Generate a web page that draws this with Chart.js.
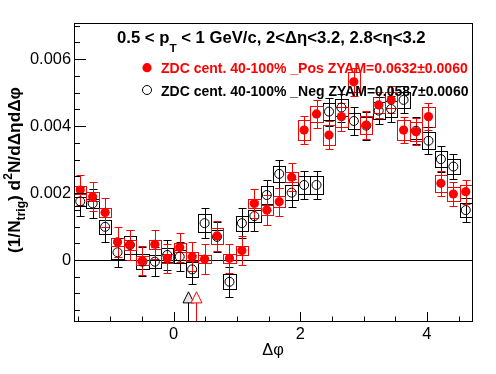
<!DOCTYPE html>
<html><head><meta charset="utf-8">
<script src="https://cdn.jsdelivr.net/npm/chart.js@4.4.1/dist/chart.umd.min.js"></script>
<style>html,body{margin:0;padding:0;background:#fff}canvas{display:block}</style>
</head><body>
<canvas id="c" width="496" height="374"></canvas>
<script>
// ---- data ----
const dphi = [-1.4726,-1.2763,-1.0799,-0.8836,-0.6872,-0.4909,-0.2945,-0.0982,
  0.0982,0.2945,0.4909,0.6872,0.8836,1.0799,1.2763,1.4726,
  1.6690,1.8653,2.0617,2.2580,2.4544,2.6507,2.8471,3.0434,
  3.2398,3.4361,3.6325,3.8288,4.0252,4.2215,4.4179,4.6142];
const binWidth = 0.19635;
const posVal = [0.00209,0.00189,0.00142,0.00054,0.00045,-0.00002,0.00047,0.00005,
  0.00037,0.00010,0.00003,0.00072,0.00005,0.00028,0.00169,0.00149,
  0.00174,0.00247,0.00388,0.00436,0.00373,0.00428,0.00532,0.00403,
  0.00463,0.00478,0.00388,0.00383,0.00428,0.00229,0.00197,0.00204];
const posStat = [0.00044,0.00044,0.00044,0.00044,0.00044,0.00044,0.00044,0.00044,
  0.00044,0.00044,0.00044,0.00044,0.00044,0.00044,0.00044,0.00044,
  0.00042,0.00042,0.00042,0.00042,0.00042,0.00042,0.00042,0.00042,
  0.00040,0.00040,0.00040,0.00040,0.00040,0.00038,0.00036,0.00036];
const posSys = [0.00012,0.00013,0.00013,0.00013,0.00014,0.00013,0.00014,0.00013,
  0.00014,0.00013,0.00013,0.00023,0.00013,0.00013,0.00013,0.00014,
  0.00017,0.00015,0.00030,0.00025,0.00030,0.00030,0.00030,0.00028,
  0.00025,0.00025,0.00030,0.00028,0.00030,0.00025,0.00022,0.00020];
const negVal = [0.00175,0.00169,0.00099,0.00023,0.00045,-0.00005,-0.00005,0.00015,
  0.00010,-0.00028,0.00110,0.00069,-0.00065,0.00110,0.00131,0.00194,
  0.00257,0.00201,0.00224,0.00224,0.00443,0.00455,0.00415,0.00401,
  0.00446,0.00451,0.00478,0.00386,0.00356,0.00301,0.00279,0.00149];
const negStat = [0.00044,0.00044,0.00044,0.00044,0.00044,0.00044,0.00044,0.00044,
  0.00044,0.00044,0.00044,0.00044,0.00044,0.00044,0.00044,0.00044,
  0.00042,0.00042,0.00042,0.00042,0.00042,0.00042,0.00042,0.00042,
  0.00040,0.00040,0.00040,0.00040,0.00040,0.00038,0.00037,0.00037];
const negSys = [0.00013,0.00013,0.00020,0.00020,0.00028,0.00022,0.00020,0.00020,
  0.00020,0.00022,0.00027,0.00020,0.00023,0.00022,0.00018,0.00026,
  0.00025,0.00022,0.00026,0.00026,0.00025,0.00025,0.00025,0.00025,
  0.00025,0.00025,0.00025,0.00025,0.00025,0.00023,0.00023,0.00020];
const zyamPhiPos = 0.354;
const zyamPhiNeg = 0.227;
const yTickValues = [0, 0.002, 0.004, 0.006];
const yTickLabels = ['0', '0.002', '0.004', '0.006'];
const xTickValues = [0, 2, 4];
const xTickLabels = ['0', '2', '4'];
const legendPos = 'ZDC cent. 40-100% _Pos ZYAM=0.0632\u00b10.0060';
const legendNeg = 'ZDC cent. 40-100% _Neg ZYAM=0.0587\u00b10.0060';

// ---- drawing helpers ----
const FONT = '"Liberation Sans", Arial, Helvetica, sans-serif';
function fnt(bold, size){ return (bold ? 'bold ' : '') + size.toFixed(2) + 'px ' + FONT; }
function richWidth(ctx, parts, size, bold){
  let w = 0;
  for (const p of parts){ ctx.font = fnt(bold, size*(p.s||1)); w += ctx.measureText(p.t).width; }
  return w;
}
function drawRich(ctx, parts, x, y, size, bold){
  for (const p of parts){
    ctx.font = fnt(bold, size*(p.s||1));
    ctx.fillText(p.t, x, y + (p.dy||0)*size);
    x += ctx.measureText(p.t).width;
  }
}
function fitSize(ctx, parts, bold, target, base){
  const w = richWidth(ctx, parts, base, bold);
  return base*target/w;
}
const snap = v => Math.round(v) + 0.5;

function drawBoxes(chart, vals, sys, color){
  const {ctx, scales:{x, y}} = chart;
  ctx.strokeStyle = color; ctx.lineWidth = 1;
  for (let i = 0; i < vals.length; i++){
    const x0 = snap(x.getPixelForValue(dphi[i]-binWidth/2));
    const x1 = snap(x.getPixelForValue(dphi[i]+binWidth/2));
    const y0 = snap(y.getPixelForValue(vals[i]+sys[i]));
    const y1 = snap(y.getPixelForValue(vals[i]-sys[i]));
    ctx.strokeRect(x0, y0, x1-x0, y1-y0);
  }
}
function drawBars(chart, vals, err, color){
  const {ctx, scales:{x, y}} = chart;
  ctx.strokeStyle = color; ctx.lineWidth = 1;
  ctx.beginPath();
  for (let i = 0; i < vals.length; i++){
    const xp = snap(x.getPixelForValue(dphi[i]));
    const yt = snap(y.getPixelForValue(vals[i]+err[i]));
    const yb = snap(y.getPixelForValue(vals[i]-err[i]));
    ctx.moveTo(xp, yt); ctx.lineTo(xp, yb);
    ctx.moveTo(xp-4, yt); ctx.lineTo(xp+4, yt);
    ctx.moveTo(xp-4, yb); ctx.lineTo(xp+4, yb);
  }
  ctx.stroke();
}
function drawArrow(chart, phi, color, fill){
  const {ctx, chartArea:a, scales:{x, y}} = chart;
  const xp = snap(x.getPixelForValue(phi));
  const yTip = y.getPixelForValue(-0.00095);
  const yBase = y.getPixelForValue(-0.00128);
  ctx.strokeStyle = color; ctx.lineWidth = 1;
  ctx.beginPath();
  ctx.moveTo(xp, yTip); ctx.lineTo(xp-5.5, yBase); ctx.lineTo(xp+5.5, yBase); ctx.closePath();
  ctx.fillStyle = fill; ctx.fill(); ctx.stroke();
  ctx.beginPath(); ctx.moveTo(xp, yBase); ctx.lineTo(xp, a.bottom); ctx.stroke();
}

const rootPlugin = {
  id: 'rootStyle',
  beforeDatasetsDraw(chart){
    const {ctx, chartArea:a, scales:{y}} = chart;
    ctx.save();
    ctx.beginPath(); ctx.rect(a.left, a.top, a.right-a.left, a.bottom-a.top); ctx.clip();
    // zero line
    const y0 = snap(y.getPixelForValue(0));
    ctx.strokeStyle = '#000'; ctx.lineWidth = 1;
    ctx.beginPath(); ctx.moveTo(a.left, y0); ctx.lineTo(a.right, y0); ctx.stroke();
    drawBoxes(chart, negVal, negSys, '#000');
    drawBoxes(chart, posVal, posSys, '#ff0000');
    drawBars(chart, negVal, negStat, '#000');
    drawBars(chart, posVal, posStat, '#ff0000');
    ctx.restore();
  },
  afterDatasetsDraw(chart){
    const {ctx, chartArea:a, scales:{x, y}} = chart;
    ctx.save();
    // arrows (ZYAM positions)
    drawArrow(chart, zyamPhiNeg, '#000', '#e6e6e6');
    drawArrow(chart, zyamPhiPos, '#ff0000', '#ffffff');
    // frame
    ctx.strokeStyle = '#000'; ctx.lineWidth = 1;
    ctx.strokeRect(snap(a.left), snap(a.top), Math.round(a.right-a.left), Math.round(a.bottom-a.top));
    // y ticks
    ctx.beginPath();
    for (let k = -3; k <= 14; k++){
      const v = k*0.0005;
      if (v < y.min || v > y.max) continue;
      const yp = snap(y.getPixelForValue(v));
      const len = (k % 4 === 0) ? 12 : 6;
      ctx.moveTo(a.left, yp); ctx.lineTo(a.left+len, yp);
    }
    // x ticks
    for (let k = -3; k <= 9; k++){
      const v = k*0.5;
      if (v < x.min || v > x.max) continue;
      const xp = snap(x.getPixelForValue(v));
      const len = (k % 4 === 0) ? 9 : 4.5;
      ctx.moveTo(xp, a.bottom); ctx.lineTo(xp, a.bottom-len);
    }
    ctx.stroke();
    // tick labels
    ctx.fillStyle = '#000';
    ctx.font = fnt(false, 16.4);
    ctx.textAlign = 'right'; ctx.textBaseline = 'middle';
    yTickValues.forEach((v, i) => ctx.fillText(yTickLabels[i], 71, y.getPixelForValue(v)+0.5));
    ctx.textAlign = 'center'; ctx.textBaseline = 'alphabetic';
    xTickValues.forEach((v, i) => ctx.fillText(xTickLabels[i], x.getPixelForValue(v), 338.5));
    // x title
    ctx.font = fnt(false, 16.4);
    ctx.fillText('\u0394\u03c6', (a.left+a.right)/2, 355);
    // y title (rotated)
    const yParts = [{t:'(1/N'},{t:'trig', s:0.7, dy:0.33},{t:') d'},{t:'2', s:0.7, dy:-0.42},{t:'N/d\u0394\u03b7d\u0394\u03c6'}];
    const ys = fitSize(ctx, yParts, true, 166, 15);
    ctx.save();
    ctx.translate(19.5, 170);
    ctx.rotate(-Math.PI/2);
    ctx.textAlign = 'left';
    drawRich(ctx, yParts, -83, 0, ys, true);
    ctx.restore();
    // title
    const tParts = [{t:'0.5 < p'},{t:'T', s:0.7, dy:0.55},{t:' < 1 GeV/c, 2<\u0394\u03b7<3.2, 2.8<\u03b7<3.2'}];
    const ts = fitSize(ctx, tParts, true, 309, 16);
    ctx.textAlign = 'left';
    ctx.fillStyle = '#000';
    drawRich(ctx, tParts, 117, 43, ts, true);
    // legend
    const ls = fitSize(ctx, [{t:legendPos}], true, 307, 14.6);
    ctx.font = fnt(true, ls);
    ctx.fillStyle = '#ff0000';
    ctx.fillText(legendPos, 161, 73.3);
    ctx.fillStyle = '#000';
    ctx.fillText(legendNeg, 161, 95.5);
    ctx.beginPath(); ctx.arc(147, 67.7, 4.6, 0, 2*Math.PI);
    ctx.fillStyle = '#ff0000'; ctx.fill();
    ctx.beginPath(); ctx.arc(147, 90, 4.5, 0, 2*Math.PI);
    ctx.strokeStyle = '#000'; ctx.lineWidth = 1; ctx.stroke();
    ctx.restore();
  }
};

new Chart(document.getElementById('c'), {
  type: 'scatter',
  data: {
    datasets: [
      { label: 'Pos', data: dphi.map((d, i) => ({x: d, y: posVal[i]})),
        pointStyle: 'circle', pointRadius: 4.6, pointBorderWidth: 0,
        backgroundColor: '#ff0000', borderColor: '#ff0000', order: 0 },
      { label: 'Neg', data: dphi.map((d, i) => ({x: d, y: negVal[i]})),
        pointStyle: 'circle', pointRadius: 4.5, pointBorderWidth: 1,
        backgroundColor: 'rgba(0,0,0,0)', borderColor: '#000', order: 1 }
    ]
  },
  options: {
    responsive: false, animation: false, devicePixelRatio: 1,
    layout: { padding: { left: 74, right: 24, top: 23, bottom: 53 } },
    plugins: { legend: { display: false }, title: { display: false }, tooltip: { enabled: false } },
    events: [],
    scales: {
      x: { type: 'linear', min: -Math.PI/2, max: 3*Math.PI/2, display: false },
      y: { type: 'linear', min: -0.001821, max: 0.007075, display: false }
    }
  },
  plugins: [rootPlugin]
});
</script>
</body></html>
